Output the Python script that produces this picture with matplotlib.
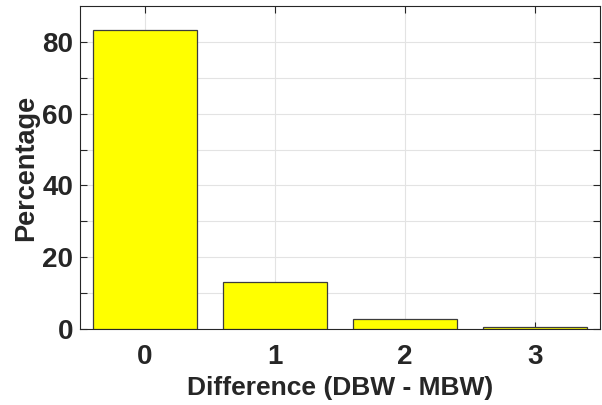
import numpy as np
import matplotlib.pyplot as plt

differences = [0, 1, 2, 3]
percentages = [83.4, 13.2, 2.9, 0.5]

plt.rcParams['font.family'] = ['Liberation Sans', 'DejaVu Sans']
plt.rcParams['font.weight'] = 'bold'

fig = plt.figure(figsize=(6.02, 4.05), dpi=100)
ax = fig.add_axes([0.1329, 0.1877, 0.8638, 0.7973])

ax.bar(differences, percentages, width=0.8, color='#ffff00', edgecolor='#3c3c3c', linewidth=0.9, zorder=3)

ax.set_xlim(-0.5, 3.5)
ax.set_ylim(0, 90)
ax.set_xticks(differences)
ax.set_yticks([0, 20, 40, 60, 80])
ax.set_yticks(np.arange(10, 90, 20), minor=True)
ax.grid(True, which='both', color='#e3e3e3', linewidth=0.8, zorder=0)
ax.set_axisbelow(True)

ax.tick_params(direction='in', top=True, right=True, length=5, width=0.8,
               color='#262626', labelsize=20, labelcolor='#262626')
ax.tick_params(axis='x', pad=11)
ax.tick_params(axis='y', pad=5)
ax.tick_params(which='minor', direction='in', right=True, length=5, width=0.8, color='#262626')
for lab in ax.get_xticklabels() + ax.get_yticklabels():
    lab.set_fontweight('bold')
for s in ax.spines.values():
    s.set_color('#262626')
    s.set_linewidth(0.8)

ax.set_xlabel('Difference (DBW - MBW)', fontsize=19, fontweight='bold', color='#262626', labelpad=4)
ax.set_ylabel('Percentage', fontsize=19.5, fontweight='bold', color='#262626', labelpad=2)

fig.savefig('out.png', dpi=100)
